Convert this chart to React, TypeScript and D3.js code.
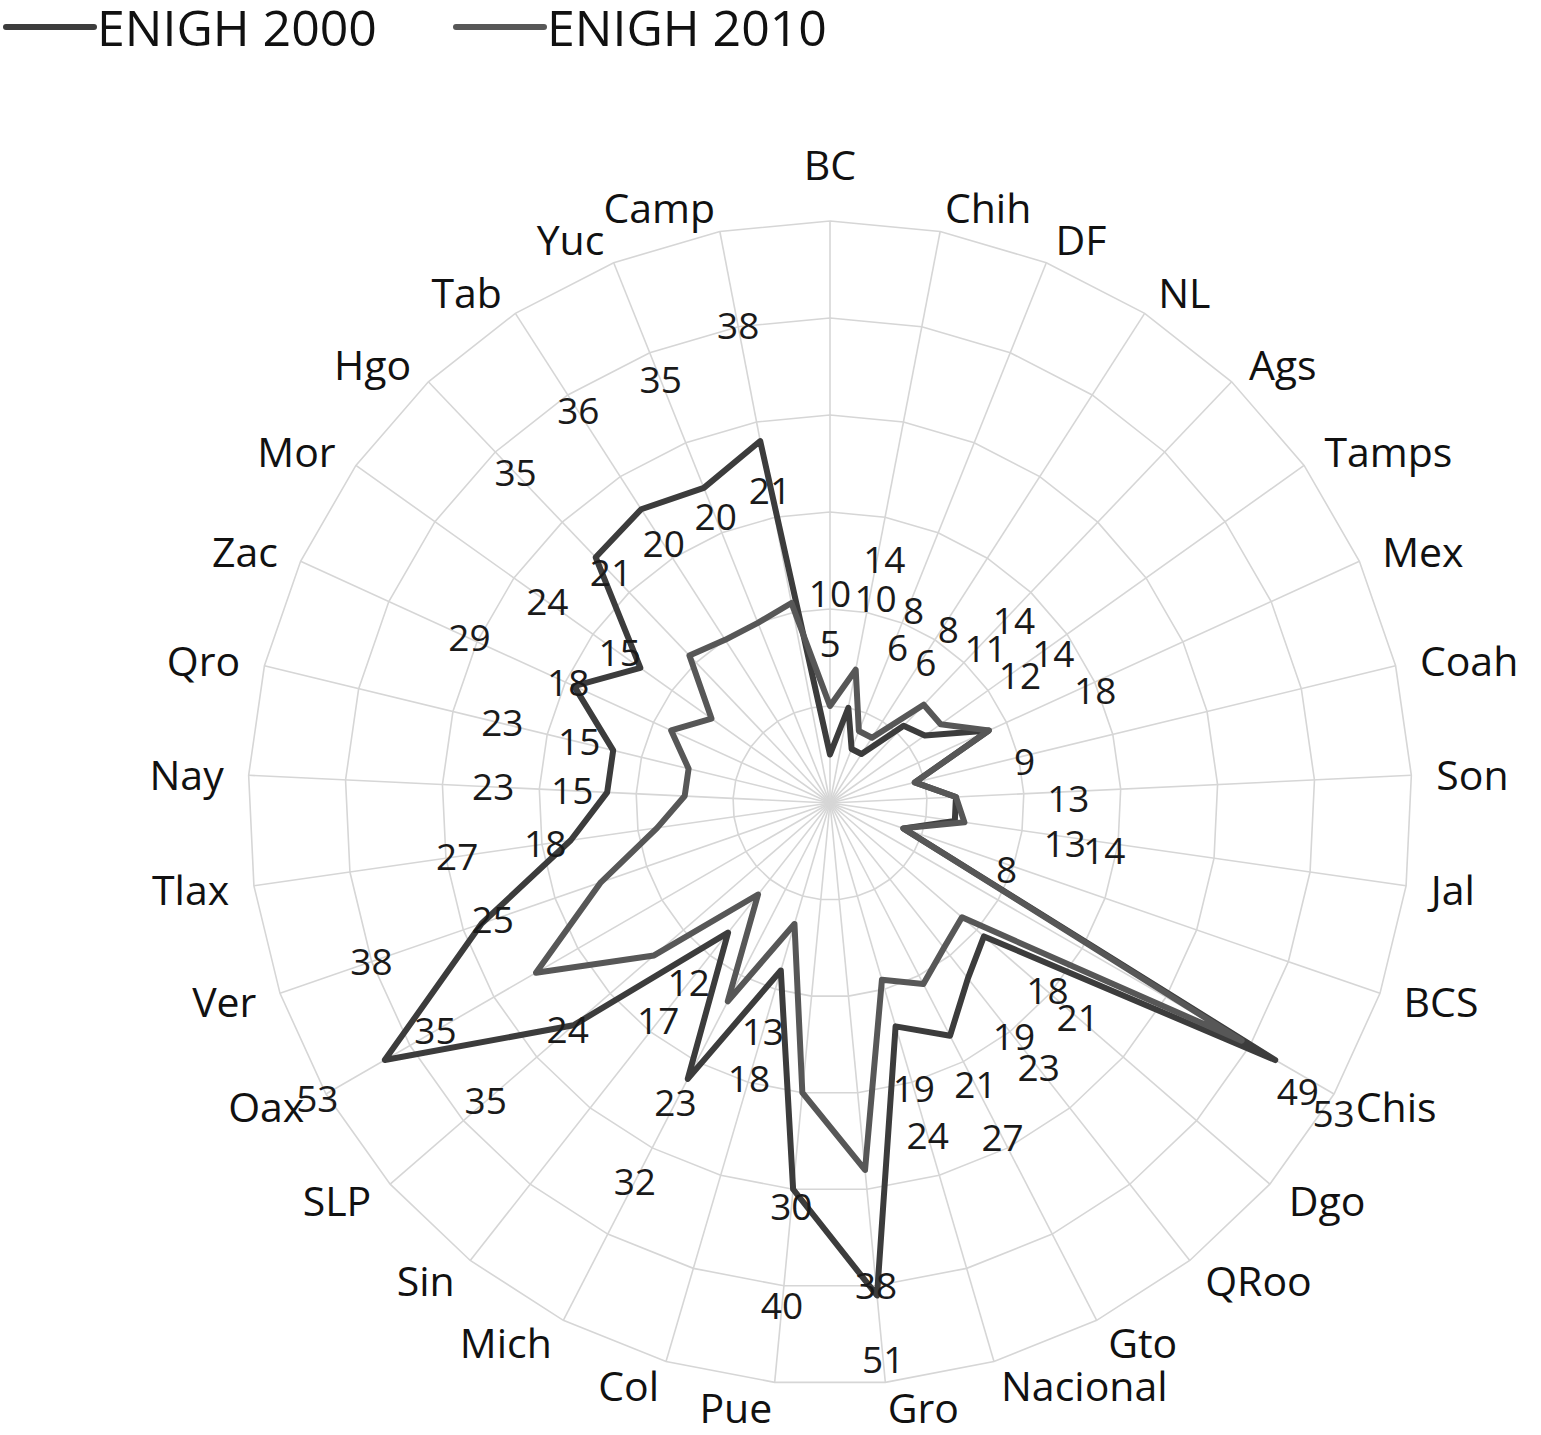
import React from 'react';
import * as d3 from 'd3';

const categories = ['BC','Chih','DF','NL','Ags','Tamps','Mex','Coah','Son','Jal','BCS','Chis','Dgo','QRoo','Gto','Nacional','Gro','Pue','Col','Mich','Sin','SLP','Oax','Ver','Tlax','Nay','Qro','Zac','Mor','Hgo','Tab','Yuc','Camp'];
const enigh2000 = [5,10,6,6,11,12,18,9,13,13,8,53,21,23,27,24,51,40,18,32,17,35,53,38,27,23,23,29,24,35,36,35,38];
const enigh2010 = [10,14,8,8,14,14,18,9,13,14,8,49,18,19,21,19,38,30,13,23,12,24,35,25,18,15,15,18,15,21,20,20,21];
const ringValues = [10,20,30,40,50,60];
const seriesNames = ['ENIGH 2000','ENIGH 2010'];
const seriesColors = ['#3c3c3c','#575757'];

const W = 1541, H = 1435;
const cx = 830, cy = 803, R = 582;
const FONT = '"Open Sans", Lato, sans-serif';

export default function App() {
  const n = categories.length;
  const angle = d3.scaleLinear().domain([0, n]).range([0, 2 * Math.PI]);
  const r = d3.scaleLinear().domain([0, 60]).range([0, R]);
  const labelR = d3.scaleLinear().domain([0, 40, 51, 53]).range([110, 505, 560, 592]);
  const polar = (a: number, rad: number) => [cx + rad * Math.sin(a), cy - rad * Math.cos(a)];

  const radial = d3.lineRadial<number>()
    .angle((_d, i) => angle(i))
    .radius(d => r(d))
    .curve(d3.curveLinearClosed);

  const series = [enigh2000, enigh2010];

  const minSep = 40;
  const labels: { key: string; v: number; x: number; y: number }[] = [];
  categories.forEach((_c, i) => {
    const a0 = angle(i);
    const a = a0 > 0.1 && a0 < 2.15 ? a0 + 0.03 : a0;
    const vals = series.map(s => s[i]);
    if (vals[0] === vals[1]) {
      const [x, y] = polar(a, labelR(vals[0]));
      labels.push({ key: `${i}`, v: vals[0], x, y });
      return;
    }
    const lo = Math.min(vals[0], vals[1]);
    const hi = Math.max(vals[0], vals[1]);
    const rLo = labelR(lo);
    const rHi = Math.max(labelR(hi), rLo + minSep);
    const [x1, y1] = polar(a, rLo);
    const [x2, y2] = polar(a, rHi);
    labels.push({ key: `${i}a`, v: lo, x: x1, y: y1 });
    labels.push({ key: `${i}b`, v: hi, x: x2, y: y2 });
  });

  return (
    <svg width={W} height={H} style={{ position: 'absolute', left: 0, top: 0, background: '#fff' }} fontFamily={FONT}>
      <rect width={W} height={H} fill="#fff" />
      {seriesNames.map((name, k) => {
        const x0 = 6 + k * 450;
        return (
          <g key={name}>
            <line x1={x0} x2={x0 + 88} y1={27} y2={27} stroke={seriesColors[k]} strokeWidth={6} strokeLinecap="round" />
            <text x={x0 + 91} y={46} fontSize={50} fill="#111">{name}</text>
          </g>
        );
      })}
      <g transform={`translate(${cx},${cy})`}>
        {ringValues.map(v => (
          <path key={v} d={radial(categories.map(() => v)) || ''} fill="none" stroke="#d6d6d6" strokeWidth={1.6} />
        ))}
        {categories.map((c, i) => {
          const a = angle(i);
          return <line key={c} x1={0} y1={0} x2={R * Math.sin(a)} y2={-R * Math.cos(a)} stroke="#d6d6d6" strokeWidth={1.6} />;
        })}
        {series.map((s, k) => (
          <path key={k} d={radial(s) || ''} fill="none" stroke={seriesColors[k]} strokeWidth={6} strokeLinejoin="round" />
        ))}
      </g>
      {categories.map((c, i) => {
        const a = angle(i);
        const s = Math.sin(a);
        const [ax, ay] = polar(a, R + 25);
        if (Math.abs(s) < 0.02) {
          return <text key={c} x={ax} y={ay - 16} textAnchor="middle" fontSize={41} fill="#111">{c}</text>;
        }
        return (
          <text key={c} x={ax} y={ay + 1.5} dy="0.35em" textAnchor={s > 0 ? 'start' : 'end'} fontSize={41} fill="#111">{c}</text>
        );
      })}
      {labels.map(l => (
        <text key={l.key} x={l.x} y={l.y} dy="0.35em" textAnchor="middle" fontSize={37} fill="#1a1a1a">{l.v}</text>
      ))}
    </svg>
  );
}
